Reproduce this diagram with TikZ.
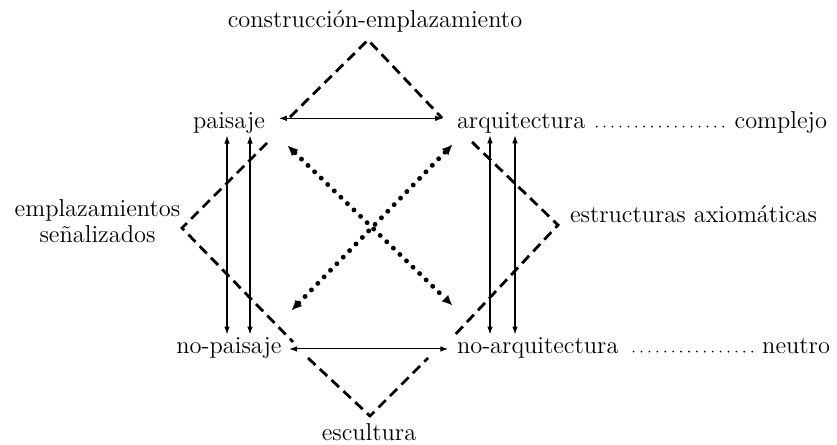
\documentclass[tikz,border=0pt]{standalone}
\usepackage{fontspec}
\usepackage{tikz}
\usetikzlibrary{arrows.meta}
\tikzstyle{klein}=[every node/.style={inner sep=0pt,outer sep=0pt,
                font=\fontsize{13.9}{14.7}\selectfont}]
\tikzstyle{twoway}=[{Latex[length=4.5pt,width=3.2pt]}-{Latex[length=4.5pt,width=3.2pt]},
                line width=0.6pt]
\tikzstyle{contra}=[{Latex[length=5.5pt,width=5pt,line width=0.01pt]}-{Latex[length=5.5pt,width=5pt,line width=0.01pt]},
                line width=2.8pt, line cap=round, dash pattern=on 0pt off 5.2pt]
\tikzstyle{bracket}=[line width=1.6pt, dash pattern=on 5.8pt off 3.4pt]
\tikzstyle{leader}=[line width=1.1pt, line cap=round, dash pattern=on 0pt off 4.5pt]

\begin{document}
\begin{tikzpicture}[klein]
\path[use as bounding box] (0,0) rectangle (16.74,8.88);
% the four terms
\node[anchor=base] (pai) at (4.58,6.32) {paisaje};
\node[anchor=base west] (arq) at (9.14,6.32) {arquitectura};
\node[anchor=base] (npai) at (4.58,1.82) {no-paisaje};
\node[anchor=base west] (narq) at (9.14,1.82) {no-arquitectura};
\node[anchor=base east] (comp) at (16.54,6.32) {complejo};
\node[anchor=base east] (neut) at (16.60,1.82) {neutro};
% combined terms
\node[anchor=base] (cons) at (7.5,8.34) {construcción-emplazamiento};
\node[anchor=base] (escu) at (7.38,0.08) {escultura};
\node[align=center] (empl) at (1.95,4.45) {emplazamientos\\señalizados};
\node[anchor=base west] (estr) at (11.4,4.44) {estructuras axiomáticas};
% bracket corners
\coordinate (t1) at (5.80,6.54); \coordinate (t2) at (7.36,8.08); \coordinate (t3) at (8.84,6.52);
\coordinate (l1) at (5.34,6.02); \coordinate (l2) at (3.64,4.32); \coordinate (l3) at (5.86,2.04);
\coordinate (r1) at (9.44,6.04); \coordinate (r2) at (11.16,4.38); \coordinate (r3) at (9.04,2.12);
\coordinate (b1) at (6.16,1.72); \coordinate (b2) at (7.40,0.56); \coordinate (b3) at (8.56,1.72);
\draw[bracket] (t1) -- (t2) -- (t3);
\draw[bracket] (l1) -- (l2) -- (l3);
\draw[bracket] (r1) -- (r2) -- (r3);
\draw[bracket] (b1) -- (b2) -- (b3);
% contradictions
\coordinate (d1) at (5.76,5.96); \coordinate (d2) at (9.04,2.78);
\coordinate (d3) at (5.84,2.68); \coordinate (d4) at (9.04,5.98);
\draw[contra] (d1) -- (d2);
\draw[contra] (d3) -- (d4);
% contraries and implications
\path[twoway]
  ([yshift=5.5pt]pai.base east) edge[shorten <=8pt, shorten >=8pt] ([yshift=5.5pt]arq.base west)
  ([yshift=2.3pt]npai.base east) edge[shorten <=4.3pt, shorten >=5pt] ([yshift=2.3pt]narq.base west);
\path[twoway, shorten <=1.5pt, shorten >=1.5pt]
  ([xshift=-0.04cm]pai.south) edge ([xshift=-0.04cm]npai.north)
  ([xshift=0.42cm]pai.south) edge ([xshift=0.42cm]npai.north)
  ([xshift=0.66cm]arq.south west) edge ([xshift=0.66cm]narq.north west)
  ([xshift=1.16cm]arq.south west) edge ([xshift=1.16cm]narq.north west);
% leaders
\draw[leader] ([shift={(6.5pt,0.8pt)}]arq.base east) -- ([shift={(-5.5pt,0.8pt)}]comp.base west);
\draw[leader] ([shift={(8.6pt,0.8pt)}]narq.base east) -- ([shift={(-4.8pt,0.8pt)}]neut.base west);
\end{tikzpicture}
\end{document}
